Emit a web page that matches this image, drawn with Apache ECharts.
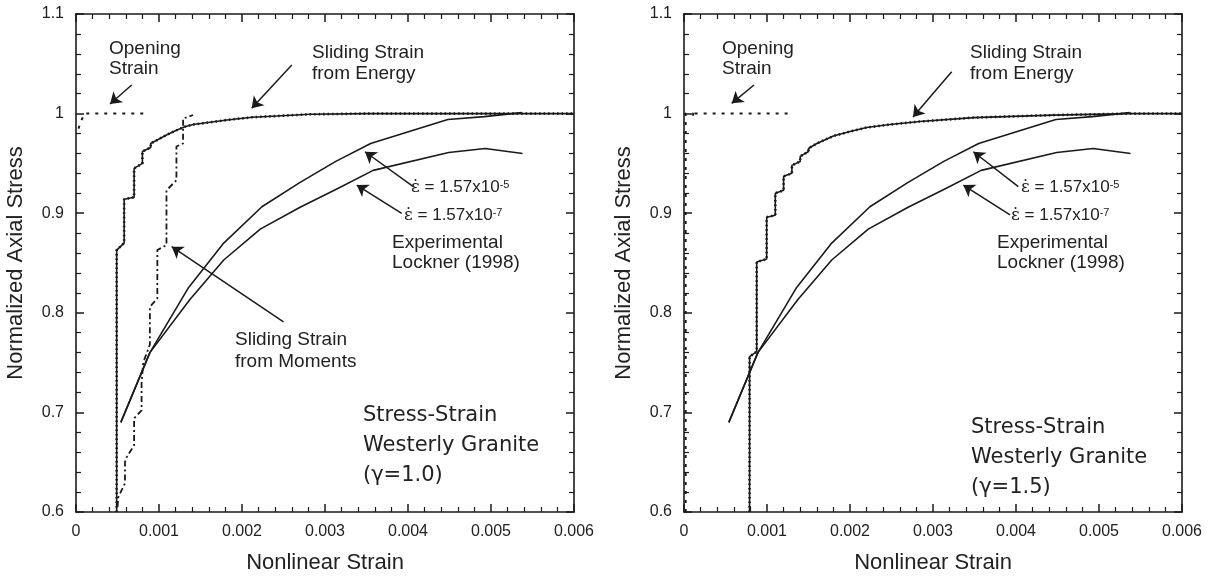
<!DOCTYPE html>
<html><head><meta charset="utf-8">
<script src="https://cdn.jsdelivr.net/npm/echarts@6/dist/echarts.min.js"></script>
<style>html,body{margin:0;padding:0;background:#fff}#c{width:1213px;height:580px}</style>
</head><body><div id="c"></div>
<script>
// ---- data (x = nonlinear strain, y = normalized axial stress) ----
const expRate5 = [[0.00054,0.69],[0.00089,0.760],[0.00135,0.8246],[0.00178,0.870],[0.00224,0.9065],[0.0027,0.931],[0.00313,0.952],[0.00355,0.970],[0.00448,0.994],[0.00492,0.997],[0.00537,1.001]];
const expRate7 = [[0.00054,0.69],[0.00089,0.760],[0.00137,0.813],[0.00178,0.853],[0.00222,0.884],[0.0027,0.906],[0.00316,0.925],[0.00358,0.943],[0.00449,0.961],[0.00493,0.965],[0.00538,0.960]];

const energyG10 = [[0.00049,0.6],[0.00049,0.863],[0.00058,0.870],[0.00058,0.914],[0.00070,0.916],[0.00070,0.945],[0.00080,0.950],[0.00080,0.962],[0.00090,0.966],[0.00090,0.970],[0.00099,0.974],[0.00109,0.9785],[0.00119,0.9825],[0.00131,0.9868],[0.00141,0.989],[0.00182,0.9936],[0.00212,0.9963],[0.00242,0.9976],[0.00282,0.9993],[0.0035,1.0],[0.006,1.0]];
const momentsG10 = [[0.00050,0.605],[0.00051,0.615],[0.00059,0.629],[0.00059,0.650],[0.00061,0.655],[0.00070,0.667],[0.00070,0.694],[0.00079,0.702],[0.00079,0.729],[0.00081,0.750],[0.00089,0.768],[0.00089,0.806],[0.00098,0.8146],[0.00098,0.863],[0.00109,0.868],[0.00109,0.923],[0.00121,0.933],[0.00121,0.967],[0.00129,0.970],[0.00129,0.995],[0.00141,0.9986]];
const openingG10 = [[0.00003,0.985],[0.00006,0.992],[0.0001,1.0],[0.00088,1.0]];

const energyG15 = [[0.00079,0.6],[0.00079,0.756],[0.000876,0.761],[0.000876,0.851],[0.000996,0.854],[0.000996,0.896],[0.0011,0.898],[0.0011,0.920],[0.0012,0.923],[0.0012,0.937],[0.0013,0.940],[0.0013,0.948],[0.0014,0.952],[0.0014,0.957],[0.0015,0.962],[0.0015,0.965],[0.0016,0.970],[0.0018,0.9775],[0.0020,0.982],[0.0022,0.986],[0.00248,0.989],[0.00272,0.991],[0.00284,0.992],[0.00349,0.996],[0.00445,0.9985],[0.00537,1.0],[0.006,1.0]];
const openingG15 = [[0.00002,0.6],[0.00002,1.0],[0.00011,1.0],[0.00011,0.996],[0.00013,1.0],[0.00132,1.0]];

// annotation arrows [from, to] in data units
const arrowsG10 = [
  [[0.000671,1.0287],[0.00041,1.0096]],
  [[0.0026,1.0488],[0.002117,1.0053]],
  [[0.0025,0.791],[0.001153,0.8664]],
  [[0.004064,0.9266],[0.003482,0.9617]],
  [[0.003924,0.8999],[0.003382,0.9283]]
];
const arrowsG15 = [
  [[0.000843,1.0287],[0.000575,1.0103]],
  [[0.003225,1.0421],[0.002759,0.9966]],
  [[0.004028,0.9266],[0.003486,0.9617]],
  [[0.003928,0.8982],[0.003365,0.9283]]
];

const INK = '#1a1a1a';
const SANS = 'Liberation Sans, Arial, sans-serif';

function xAx(gi, pos, main) {
  return {
    type: 'value', gridIndex: gi, position: pos, min: 0, max: 0.006, interval: 0.001,
    axisLine: { show: true, onZero: false, lineStyle: { color: INK, width: 1.6 } },
    axisTick: { show: true, inside: true, length: 8, lineStyle: { color: INK, width: 1.5 } },
    minorTick: { show: true, splitNumber: 5, length: 5, lineStyle: { color: INK, width: 1.2 } },
    splitLine: { show: false }, minorSplitLine: { show: false },
    axisLabel: { show: main, color: '#222', fontSize: 16, fontFamily: SANS, margin: 12 },
    name: main ? 'Nonlinear Strain' : '', nameLocation: 'middle', nameGap: 40,
    nameTextStyle: { color: '#222', fontSize: 22, fontFamily: SANS }
  };
}
function yAx(gi, pos, main) {
  return {
    type: 'value', gridIndex: gi, position: pos, min: 0.6, max: 1.1, interval: 0.1,
    axisLine: { show: true, onZero: false, lineStyle: { color: INK, width: 1.6 } },
    axisTick: { show: true, inside: true, length: 8, lineStyle: { color: INK, width: 1.5 } },
    minorTick: { show: true, splitNumber: 5, length: 5, lineStyle: { color: INK, width: 1.2 } },
    splitLine: { show: false }, minorSplitLine: { show: false },
    axisLabel: { show: main, color: '#222', fontSize: 16, fontFamily: SANS, margin: 12,
      formatter: v => String(Math.round(v * 10) / 10) },
    name: main ? 'Normalized Axial Stress' : '', nameLocation: 'middle', nameGap: 49,
    nameTextStyle: { color: '#222', fontSize: 22, fontFamily: SANS }
  };
}

function line(gi, data, style, z) {
  return { type: 'line', xAxisIndex: gi * 2, yAxisIndex: gi * 2, data: data, symbol: 'none',
    lineStyle: Object.assign({ color: INK, width: 1.6 }, style), z: z || 2, silent: true, animation: false };
}
function arrows(gi, list) {
  return { type: 'lines', coordinateSystem: 'cartesian2d', xAxisIndex: gi * 2, yAxisIndex: gi * 2,
    symbol: ['none', 'arrow'], symbolSize: 11, silent: true, animation: false, z: 5,
    lineStyle: { color: INK, width: 1.5, opacity: 1 },
    data: list.map(c => ({ coords: c })) };
}

function txt(x, y, text, size, lh, fam) {
  return { type: 'text', x: x, y: y, silent: true, z: 10,
    style: { text: text, fill: '#222', fontSize: size, fontFamily: fam || SANS, lineHeight: lh, align: 'left', verticalAlign: 'top' } };
}
function rateTxt(x, y, exp) {
  return { type: 'text', x: x, y: y, silent: true, z: 10,
    style: { text: '{e|ε̇} = 1.57x10{s|' + exp + '}', fill: '#222', fontSize: 17, fontFamily: SANS, align: 'left', verticalAlign: 'top',
      rich: { e: { fontSize: 17, fontFamily: 'DejaVu Serif', fill: '#222' }, s: { fontSize: 11, verticalAlign: 'top', fill: '#222', fontFamily: SANS } } } };
}
const DV = 'DejaVu Sans, sans-serif';

const chart = echarts.init(document.getElementById('c'), null, { renderer: 'canvas' });
chart.setOption({
  backgroundColor: '#fff',
  animation: false,
  grid: [
    { left: 76, top: 14, width: 498, height: 498, containLabel: false },
    { left: 684, top: 14, width: 498, height: 498, containLabel: false }
  ],
  xAxis: [xAx(0, 'bottom', true), xAx(0, 'top', false), xAx(1, 'bottom', true), xAx(1, 'top', false)],
  yAxis: [yAx(0, 'left', true), yAx(0, 'right', false), yAx(1, 'left', true), yAx(1, 'right', false)],
  series: [
    line(0, expRate5, {}),
    line(0, expRate7, {}),
    line(0, energyG10, {}),
    line(0, energyG10, { type: [1.5, 3], width: 2.6 }, 3),
    line(0, momentsG10, { type: [6, 3, 2, 3], width: 1.8 }),
    line(0, openingG10, { type: [3, 6], width: 2 }),
    arrows(0, arrowsG10),
    line(1, expRate5, {}),
    line(1, expRate7, {}),
    line(1, energyG15, {}),
    line(1, energyG15, { type: [1.5, 3], width: 2.6 }, 3),
    line(1, openingG15, { type: [3, 6], width: 2 }),
    arrows(1, arrowsG15)
  ],
  graphic: [
    txt(109, 39, 'Opening\nStrain', 19, 20),
    txt(312, 42, 'Sliding Strain\nfrom Energy', 19, 21),
    txt(235, 329, 'Sliding Strain\nfrom Moments', 19, 22),
    rateTxt(411, 179, '-5'),
    rateTxt(404, 207, '-7'),
    txt(392, 233, 'Experimental\nLockner (1998)', 19, 20),
    txt(363, 401, 'Stress-Strain\nWesterly Granite\n(γ=1.0)', 21, 30, DV),

    txt(722, 39, 'Opening\nStrain', 19, 20),
    txt(970, 42, 'Sliding Strain\nfrom Energy', 19, 21),
    rateTxt(1021, 179, '-5'),
    rateTxt(1011, 207, '-7'),
    txt(997, 233, 'Experimental\nLockner (1998)', 19, 20),
    txt(971, 413, 'Stress-Strain\nWesterly Granite\n(γ=1.5)', 21, 30, DV)
  ]
});
</script></body></html>
